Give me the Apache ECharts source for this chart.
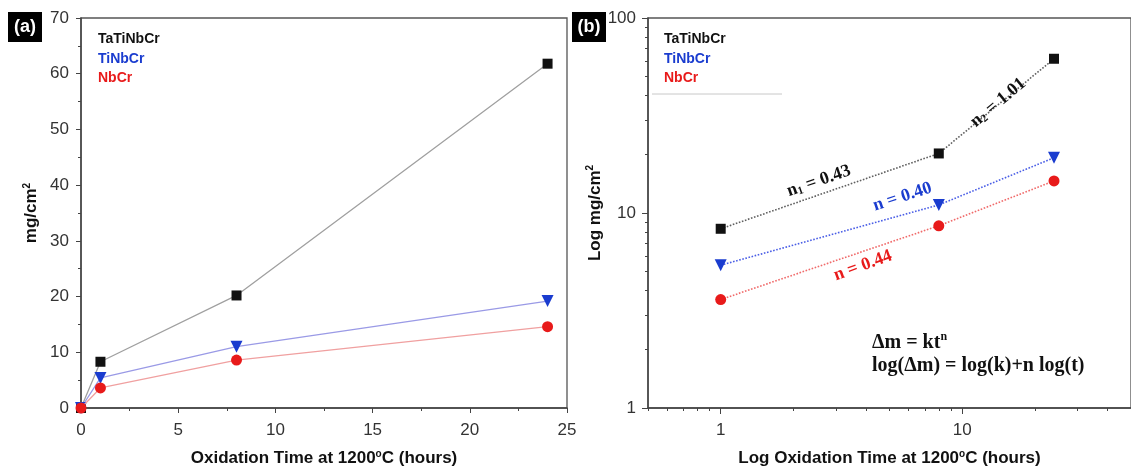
<!DOCTYPE html>
<html>
<head>
<meta charset="utf-8">
<script src="https://cdn.jsdelivr.net/npm/echarts@6/dist/echarts.min.js"></script>
<style>
html,body{margin:0;padding:0;background:#fff;}
#chart{width:1131px;height:472px;}
</style>
</head>
<body>
<div id="chart"></div>
<script>
// ---- data ----
const seriesNames = ['TaTiNbCr', 'TiNbCr', 'NbCr'];
const timeHours = [0, 1, 8, 24];
const taTiNbCr = [0, 8.3, 20.2, 61.8];
const tiNbCr = [0, 5.4, 11.0, 19.2];
const nbCr = [0, 3.6, 8.6, 14.6];

// tick labels
const linXTicks = [0, 5, 10, 15, 20, 25];
const linYTicks = [0, 10, 20, 30, 40, 50, 60, 70];
const logXMajor = [1, 10];
const logXMinor = [0.5, 0.6, 0.7, 0.8, 0.9, 2, 3, 4, 5, 6, 7, 8, 9, 20, 30, 40];
const logYMajor = [1, 10, 100];
const logYMinor = [2, 3, 4, 5, 6, 7, 8, 9, 20, 30, 40, 50, 60, 70, 80, 90];

// fitted exponents (annotation text)
const nLabels = ['n{sub|1} = 0.43', 'n{sub|2} = 1.01', 'n = 0.40', 'n = 0.44'];

// ---- build ----
const pairs = (xs, ys, from) => xs.slice(from).map((x, i) => [x, ys[i + from]]);

const colors = ['#111111', '#1a3ccf', '#e81a1a'];
const lineColorsA = ['#a0a0a0', '#9a9ae6', '#f0a0a0'];
const lineColorsB = ['#606060', '#4a5ee6', '#f06a6a'];
const symbols = ['rect', 'triangle', 'circle'];
const symbolSizes = [10, 12, 11];
const symbolRotates = [0, 180, 0];
const valuesAll = [taTiNbCr, tiNbCr, nbCr];

const serif = '"Liberation Serif", "DejaVu Serif", serif';
const sans = '"Liberation Sans", Arial, sans-serif';

const annStyle = (color, rot) => ({
  show: true, position: 'inside', rotate: rot, color: color,
  fontFamily: serif, fontWeight: 'bold', fontSize: 18,
  rich: { sub: { fontFamily: serif, fontWeight: 'bold', fontSize: 11, verticalAlign: 'bottom', padding: [7, 0, 0, 0], color: color } }
});

const annotations = [
  [{ coord: [2.55, 14.6], value: nLabels[0], label: annStyle('#111', 19) },
   { coord: [14.1, 36.8], value: nLabels[1], label: annStyle('#111', 40) }],
  [{ coord: [5.66, 12.1], value: nLabels[2], label: annStyle('#1a3ccf', 18) }],
  [{ coord: [3.88, 5.37], value: nLabels[3], label: annStyle('#e81a1a', 20) }]
];

const series = [];
seriesNames.forEach((name, i) => {
  series.push({
    name: name, type: 'line', xAxisIndex: 0, yAxisIndex: 0,
    data: pairs(timeHours, valuesAll[i], 0),
    symbol: symbols[i], symbolSize: symbolSizes[i], symbolRotate: symbolRotates[i],
    itemStyle: { color: colors[i] },
    lineStyle: { color: lineColorsA[i], width: 1.3 },
    z: 2 + i
  });
});
seriesNames.forEach((name, i) => {
  series.push({
    name: name, type: 'line', xAxisIndex: 1, yAxisIndex: 1,
    data: pairs(timeHours, valuesAll[i], 1),
    symbol: symbols[i], symbolSize: symbolSizes[i], symbolRotate: symbolRotates[i],
    itemStyle: { color: colors[i] },
    lineStyle: { color: lineColorsB[i], width: 1.6, type: 'dotted' },
    markPoint: {
      symbol: 'circle', symbolSize: 1, itemStyle: { color: 'rgba(0,0,0,0)' },
      label: { formatter: p => p.value },
      data: annotations[i]
    },
    z: 2 + i
  });
});

const axisLine = { show: true, lineStyle: { color: '#444', width: 1.5 } };
const tickLabel = { color: '#333', fontSize: 17, fontFamily: sans };
const nameStyle = (extra) => Object.assign({
  color: '#111', fontSize: 17, fontWeight: 'bold', fontFamily: sans,
  rich: { sup: { fontSize: 10, fontWeight: 'bold', fontFamily: sans, color: '#111', verticalAlign: 'top', padding: [0, 0, 9, 0] } }
}, extra || {});

const legendCommon = {
  orient: 'vertical', icon: 'none', itemWidth: 0, itemHeight: 15, itemGap: 5,
  selectedMode: false,
  data: seriesNames.map((n, i) => ({ name: n, textStyle: { color: colors[i] } })),
  textStyle: { fontFamily: sans, fontWeight: 'bold', fontSize: 14 }
};

const option = {
  backgroundColor: '#fff',
  animation: false,
  grid: [
    { left: 81, right: 564, top: 18, bottom: 62, show: true, borderColor: '#555', borderWidth: 1.3, backgroundColor: 'transparent' },
    { left: 648, right: -3, top: 18, bottom: 62, show: true, borderColor: '#555', borderWidth: 1.3, backgroundColor: 'transparent' }
  ],
  legend: [
    Object.assign({ left: 88, top: 27 }, legendCommon),
    Object.assign({ left: 654, top: 27 }, legendCommon)
  ],
  xAxis: [
    { gridIndex: 0, type: 'value', min: linXTicks[0], max: linXTicks[linXTicks.length - 1], interval: 5,
      axisLine: axisLine, axisTick: { show: true, length: 5, lineStyle: { color: '#444' } },
      minorTick: { show: true, splitNumber: 2, length: 3, lineStyle: { color: '#444' } },
      splitLine: { show: false },
      axisLabel: Object.assign({ margin: 14 }, tickLabel),
      name: 'Oxidation Time at 1200{sup|o}C (hours)', nameLocation: 'middle', nameGap: 41,
      nameTextStyle: nameStyle() },
    { gridIndex: 1, type: 'log', logBase: 10, min: 0.5, max: 50,
      axisLine: axisLine, axisTick: { show: true, length: 6, customValues: logXMajor, lineStyle: { color: '#444' } },
      splitLine: { show: false },
      axisLabel: Object.assign({ margin: 14, customValues: logXMajor }, tickLabel),
      name: 'Log Oxidation Time at 1200{sup|o}C (hours)', nameLocation: 'middle', nameGap: 41,
      nameTextStyle: nameStyle() },
    { gridIndex: 1, type: 'log', logBase: 10, min: 0.5, max: 50, position: 'bottom', silent: true,
      axisLine: { show: false }, axisTick: { show: true, length: 3, customValues: logXMinor, lineStyle: { color: '#444' } },
      splitLine: { show: false }, axisLabel: { show: false } }
  ],
  yAxis: [
    { gridIndex: 0, type: 'value', min: linYTicks[0], max: linYTicks[linYTicks.length - 1], interval: 10,
      axisLine: axisLine, axisTick: { show: true, length: 5, lineStyle: { color: '#444' } },
      minorTick: { show: true, splitNumber: 2, length: 3, lineStyle: { color: '#444' } },
      splitLine: { show: false },
      axisLabel: Object.assign({ margin: 12 }, tickLabel),
      name: 'mg/cm{sup|2}', nameLocation: 'middle', nameGap: 40, nameTextStyle: nameStyle() },
    { gridIndex: 1, type: 'log', logBase: 10, min: 1, max: 100,
      axisLine: axisLine, axisTick: { show: true, length: 6, customValues: logYMajor, lineStyle: { color: '#444' } },
      splitLine: { show: false },
      axisLabel: Object.assign({ margin: 12, customValues: logYMajor }, tickLabel),
      name: 'Log mg/cm{sup|2}', nameLocation: 'middle', nameGap: 37, nameTextStyle: nameStyle() },
    { gridIndex: 1, type: 'log', logBase: 10, min: 1, max: 100, position: 'left', silent: true,
      axisLine: { show: false }, axisTick: { show: true, length: 3, customValues: logYMinor, lineStyle: { color: '#444' } },
      splitLine: { show: false }, axisLabel: { show: false } }
  ],
  series: series,
  graphic: [
    { type: 'group', left: 8, top: 12, children: [
      { type: 'rect', shape: { x: 0, y: 0, width: 34, height: 30 }, style: { fill: '#000' } },
      { type: 'text', x: 17, y: 15, style: { text: '(a)', fill: '#fff', font: 'bold 18px "Liberation Sans", Arial', align: 'center', verticalAlign: 'middle' } }
    ] },
    { type: 'group', left: 572, top: 12, children: [
      { type: 'rect', shape: { x: 0, y: 0, width: 34, height: 30 }, style: { fill: '#000' } },
      { type: 'text', x: 17, y: 15, style: { text: '(b)', fill: '#fff', font: 'bold 18px "Liberation Sans", Arial', align: 'center', verticalAlign: 'middle' } }
    ] },
    { type: 'line', shape: { x1: 652, y1: 94, x2: 782, y2: 94 }, style: { stroke: '#c8c8c8', lineWidth: 1 } },
    { type: 'text', left: 872, top: 331, style: {
      text: '\u0394m = kt{sup|n}\nlog(\u0394m) = log(k)+n log(t)',
      fill: '#111', font: 'bold 20px "Liberation Serif", serif', lineHeight: 23,
      rich: { sup: { fontSize: 12, fontWeight: 'bold', fontFamily: serif, verticalAlign: 'top', padding: [0, 0, 9, 0], fill: '#111' } }
    } }
  ]
};

const chart = echarts.init(document.getElementById('chart'), null, { renderer: 'canvas' });
chart.setOption(option);
</script>
</body>
</html>
